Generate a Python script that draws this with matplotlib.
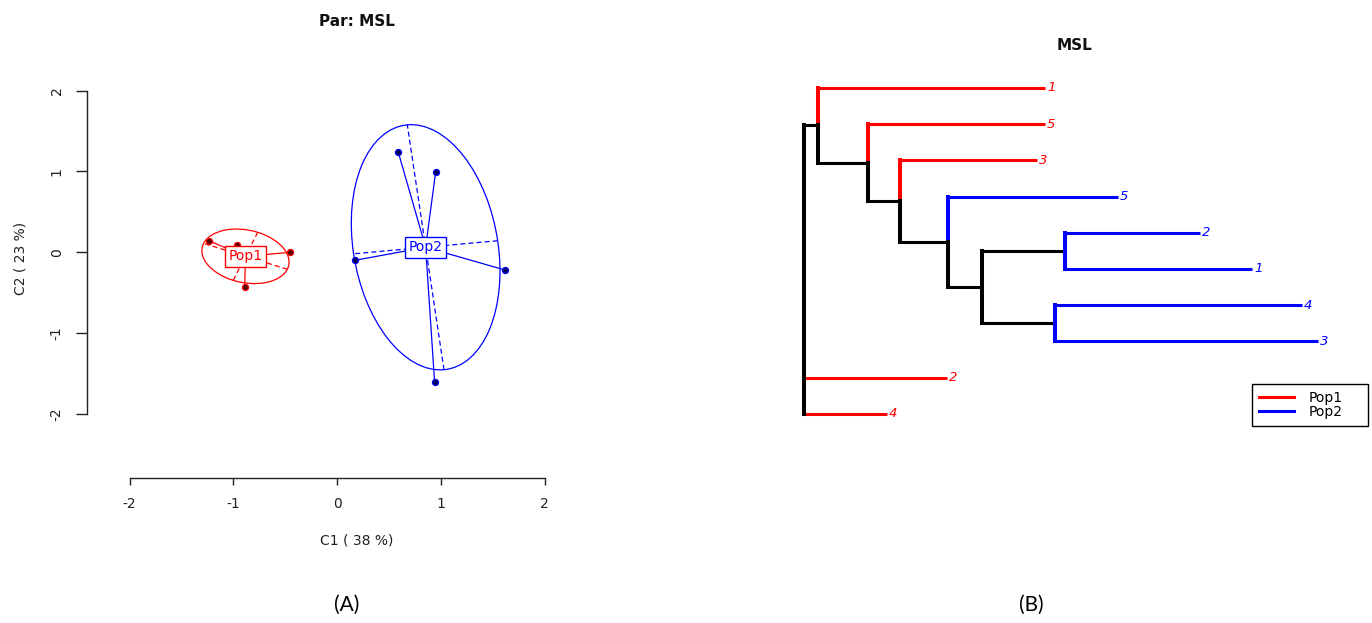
import numpy as np
import matplotlib
matplotlib.use("Agg")
import matplotlib.pyplot as plt
from matplotlib.patches import Ellipse
from matplotlib.lines import Line2D

# ---------------- data ----------------
# (A) scatter of individuals on first two components
pop1_x = [-1.23, -0.96, -0.45, -0.89]
pop1_y = [0.14, 0.09, 0.00, -0.43]
pop2_x = [0.59, 0.95, 0.17, 1.62, 0.94]
pop2_y = [1.24, 0.99, -0.10, -0.22, -1.60]
pop_names = ["Pop1", "Pop2"]
pop_colors = ["#FF0000", "#0000FF"]
pop_dark = ["#5a0000", "#00005a"]
axis_ticks = [-2, -1, 0, 1, 2]
xlabel_A = "C1 ( 38 %)"
ylabel_A = "C2 ( 23 %)"
title_A = "Par: MSL"
cellipse = 1.5

# (B) dendrogram: tips in plotting order (top to bottom)
tip_labels = ["1", "5", "3", "5", "2", "1", "4", "3", "2", "4"]
tip_pops = ["Pop1", "Pop1", "Pop1", "Pop2", "Pop2", "Pop2", "Pop2", "Pop2", "Pop1", "Pop1"]
# edges: parent, child, branch length (tips are t0..t9)
edge_parent = ["root", "A", "A", "B", "B", "C", "C", "D", "D", "E", "E", "F", "F", "G", "G", "root", "root"]
edge_child = ["A", "t0", "B", "t1", "C", "t2", "D", "t3", "E", "F", "G", "t4", "t5", "t6", "t7", "t8", "t9"]
edge_length = [0.14, 2.27, 0.50, 1.77, 0.32, 1.37, 0.48, 1.70, 0.34, 0.83, 0.73, 1.35, 1.87, 2.47, 2.63, 1.43, 0.83]
title_B = "MSL"

# ---------------- figure ----------------
W, H = 1372, 623
fig = plt.figure(figsize=(W / 100, H / 100), dpi=100)
plt.rcParams['font.family'] = ['DejaVu Sans']


def px_axes(left, top, right, bottom):
    return fig.add_axes([left / W, 1 - bottom / H, (right - left) / W, (bottom - top) / H])


# ---------- panel A ----------
axA = px_axes(87.3, 60, 640, 477.7)
axA.set_xlim(-2.407, 2.920)
axA.set_ylim(-2.790, 2.380)
for s in ["top", "right"]:
    axA.spines[s].set_visible(False)
axA.spines["left"].set_bounds(-2, 2)
axA.spines["bottom"].set_bounds(-2, 2)
for s in ["left", "bottom"]:
    axA.spines[s].set_linewidth(1.0)
    axA.spines[s].set_color("#222222")
axA.set_xticks(axis_ticks)
axA.set_yticks(axis_ticks)
axA.set_xticklabels([str(t) for t in axis_ticks])
axA.set_yticklabels([str(t) for t in axis_ticks], rotation=90, va="center")
axA.tick_params(axis="x", length=5, width=1.0, pad=9, labelsize=10, colors="#222222")
axA.tick_params(axis="y", length=8, width=1.0, pad=9, labelsize=10, colors="#222222")
axA.patch.set_alpha(0)

groups = [(pop1_x, pop1_y), (pop2_x, pop2_y)]
for gi, (gx, gy) in enumerate(groups):
    gx = np.asarray(gx); gy = np.asarray(gy)
    col = pop_colors[gi]
    cx, cy = gx.mean(), gy.mean()
    cov = np.cov(np.vstack([gx, gy]), bias=True)
    vals, vecs = np.linalg.eigh(cov)
    # ellipse
    big = vecs[:, 1]
    ang = np.degrees(np.arctan2(big[1], big[0]))
    e = Ellipse((cx, cy), width=2 * cellipse * np.sqrt(vals[1]),
                height=2 * cellipse * np.sqrt(vals[0]), angle=ang,
                fill=False, edgecolor=col, lw=0.9, zorder=2)
    axA.add_patch(e)
    # ellipse axes (dashed)
    for k in range(2):
        v = vecs[:, k] * cellipse * np.sqrt(vals[k])
        axA.plot([cx - v[0], cx + v[0]], [cy - v[1], cy + v[1]], ls=(0, (4, 2.5)),
                 color=col, lw=0.9, zorder=2)
    # stars
    for px_, py_ in zip(gx, gy):
        axA.plot([cx, px_], [cy, py_], color=col, lw=0.9, zorder=3)
    axA.scatter(gx, gy, s=20, color=pop_dark[gi], edgecolors=col, linewidths=0.8, zorder=4)
    axA.text(cx, cy, pop_names[gi], color=col, fontsize=10, ha="center", va="center", zorder=5,
             bbox=dict(boxstyle="square,pad=0.25", fc="white", ec=col, lw=1.0))

fig.text(357 / W, 1 - 540 / H, xlabel_A, ha="center", va="center", fontsize=10, color="#222222")
fig.text(21 / W, 1 - 258 / H, ylabel_A, ha="center", va="center", fontsize=10, rotation=90, color="#222222")
fig.text(357 / W, 1 - 21 / H, title_A, ha="center", va="center", fontsize=11, fontweight="bold", color="#111111")

# ---------- panel B ----------
axB = px_axes(780, 70, 1372, 430)
axB.set_xlim(-0.24, 5.68)
axB.set_ylim(10.45, 0.503)
axB.axis("off")

children = {}
length_of = {}
for p, c, l in zip(edge_parent, edge_child, edge_length):
    children.setdefault(p, []).append(c)
    length_of[c] = l

depth = {"root": 0.0}
order = ["root"]
i = 0
while i < len(order):
    n = order[i]
    for c in children.get(n, []):
        depth[c] = depth[n] + length_of[c]
        order.append(c)
    i += 1

ypos = {f"t{k}": k + 1 for k in range(len(tip_labels))}


def get_y(n):
    if n in ypos:
        return ypos[n]
    ys = [get_y(c) for c in children[n]]
    ypos[n] = float(np.mean(ys))
    return ypos[n]


get_y("root")

pop_color = dict(zip(pop_names, pop_colors))
edge_col = {}
for c in edge_child:
    if c.startswith("t"):
        edge_col[c] = pop_color[tip_pops[int(c[1:])]]
    else:
        edge_col[c] = "black"

HLW = 2.2
VLW = 2.9
for p, c in zip(edge_parent, edge_child):
    axB.plot([depth[p], depth[c]], [ypos[c], ypos[c]], color=edge_col[c], lw=HLW,
             solid_capstyle="butt", zorder=2)

for n, kids in children.items():
    cols = [edge_col[k] for k in kids]
    ys = [ypos[k] for k in kids]
    x = depth[n]
    if all(cc == cols[0] for cc in cols):
        axB.plot([x, x], [min(ys), max(ys)], color=cols[0], lw=VLW, solid_capstyle="projecting", zorder=3)
    elif len(kids) == 2:
        axB.plot([x, x], [ys[0], ypos[n]], color=cols[0], lw=VLW, solid_capstyle="projecting", zorder=3)
        axB.plot([x, x], [ypos[n], ys[1]], color=cols[1], lw=VLW, solid_capstyle="projecting", zorder=3)
    else:
        axB.plot([x, x], [min(ys), max(ys)], color="black", lw=VLW, solid_capstyle="projecting", zorder=3)

for k, lab in enumerate(tip_labels):
    t = f"t{k}"
    axB.annotate(lab, (depth[t], ypos[t]), xytext=(1.5, 0), textcoords="offset points",
                 ha="left", va="center", fontsize=9.5, fontstyle="italic",
                 color=pop_color[tip_pops[k]])

fig.text(1075 / W, 1 - 46 / H, title_B, ha="center", va="center", fontsize=11, fontweight="bold", color="#111111")

handles = [Line2D([], [], color=c, lw=2.2) for c in pop_colors]
leg = fig.legend(handles, pop_names, loc="upper left", mode="expand",
                 bbox_to_anchor=(1252 / W, 1 - 428 / H, 116 / W, 44 / H), fontsize=10,
                 frameon=True, fancybox=False, edgecolor="black", framealpha=1,
                 handlelength=2.5, handletextpad=1.1, borderpad=0.5, labelspacing=0.0,
                 borderaxespad=0)
leg.get_frame().set_linewidth(1.0)

# panel captions
fig.text(347 / W, 1 - 605 / H, "(A)", ha="center", va="center", fontsize=15, family="Lato")
fig.text(1031 / W, 1 - 605 / H, "(B)", ha="center", va="center", fontsize=15, family="Lato")

fig.savefig("out.png", dpi=100)
